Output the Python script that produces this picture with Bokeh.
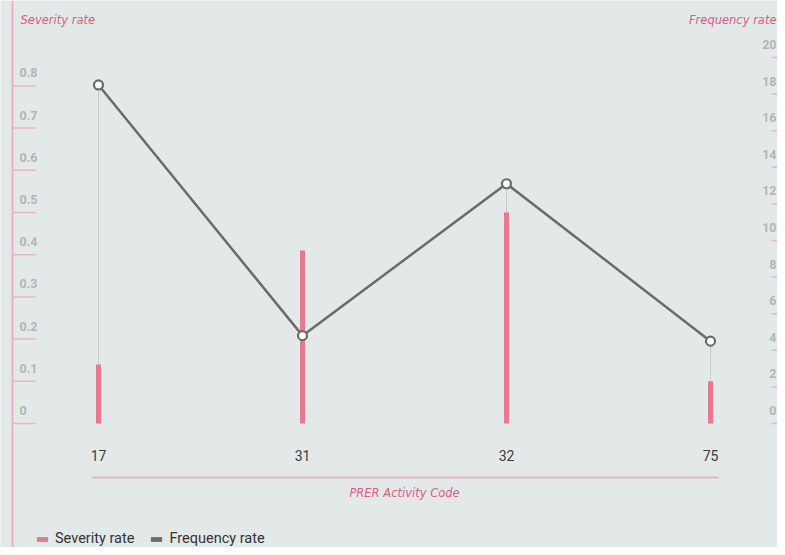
from bokeh.plotting import figure
from bokeh.models import Range1d, Span, Label, Legend, LegendItem
from bokeh.core.properties import value
from bokeh.embed import file_html
from bokeh.resources import INLINE

# ---- data ----
categories = ["17", "31", "32", "75"]
severity = [0.14, 0.41, 0.50, 0.10]
frequency = [18.5, 4.8, 13.1, 4.5]
sev_ticks = [0, 0.1, 0.2, 0.3, 0.4, 0.5, 0.6, 0.7, 0.8]
sev_tick_labels = ["0", "0.1", "0.2", "0.3", "0.4", "0.5", "0.6", "0.7", "0.8"]
freq_ticks = [0, 2, 4, 6, 8, 10, 12, 14, 16, 18, 20]
freq_tick_labels = [str(t) for t in freq_ticks]

# ---- layout ----
W, H = 777, 547
X0_PX, X_STEP = 98, 204          # pixel of first category, pixels per category
Y0_PX = 423                       # pixel (from top) of zero
SEV_PX, FREQ_PX = 422.0, 18.3     # pixels per unit

def px2x(px):
    return (px - X0_PX) / X_STEP

def px2sev(py):
    return (Y0_PX - py) / SEV_PX

BG = "#e3e9e9"
PINK = "#e8798f"
PINK_LIGHT = "#e9b3c0"
PINK_TEXT = "#d9607f"
GRAY_LINE = "#6b6b6b"
TICK_TEXT = "#b3b6b6"
FONT = "Roboto"
TITLE_FONT = "DejaVu Sans"

xs = list(range(len(categories)))

p = figure(width=W, height=H, output_backend="svg", toolbar_location=None,
           x_range=Range1d(px2x(0), px2x(W)),
           y_range=Range1d(px2sev(H), px2sev(0)),
           x_axis_location=None, y_axis_location=None,
           min_border=0, min_border_left=0, min_border_right=0,
           min_border_top=0, min_border_bottom=0)
p.extra_y_ranges = {"freq": Range1d(-(H - Y0_PX) / FREQ_PX, Y0_PX / FREQ_PX)}
p.background_fill_color = BG
p.border_fill_color = BG
p.outline_line_color = None
p.grid.visible = False

# left vertical axis line
p.add_layout(Span(location=px2x(12), dimension="height", line_color=PINK_LIGHT, line_width=2))

# left ticks + labels
p.segment(x0=[px2x(12)] * len(sev_ticks), x1=[px2x(35)] * len(sev_ticks),
          y0=sev_ticks, y1=sev_ticks, line_color=PINK_LIGHT, line_width=1.5)
p.text(x=[px2x(19)] * len(sev_ticks), y=sev_ticks, text=sev_tick_labels,
       y_offset=-13, text_align="left", text_baseline="middle",
       text_font=value(FONT), text_font_style="bold", text_font_size="12.5px",
       text_color=TICK_TEXT)

# right ticks + labels
p.segment(x0=[px2x(771)] * len(freq_ticks), x1=[px2x(W)] * len(freq_ticks),
          y0=freq_ticks, y1=freq_ticks, line_color=PINK_LIGHT, line_width=1.5,
          y_range_name="freq")
p.text(x=[px2x(W - 1)] * len(freq_ticks), y=freq_ticks, text=freq_tick_labels,
       y_offset=-13, text_align="right", text_baseline="middle",
       text_font=value(FONT), text_font_style="bold", text_font_size="12.5px",
       text_color=TICK_TEXT, y_range_name="freq")

# dotted drop lines (from frequency point down, behind bars)
p.segment(x0=xs, x1=xs, y0=frequency, y1=[0] * len(xs), line_color="#a9abab",
          line_width=1, line_dash="1 1", y_range_name="freq")

# severity bars
bars = p.vbar(x=xs, top=severity, bottom=0, width=5 / X_STEP, fill_color=PINK, line_color=None)

# frequency line
p.line(x=xs, y=frequency, line_color=GRAY_LINE, line_width=2.5, y_range_name="freq")
p.scatter(x=xs, y=frequency, size=9, marker="circle", fill_color="white",
          line_color=GRAY_LINE, line_width=2.2, y_range_name="freq")

# x axis line, labels, title
p.segment(x0=[xs[0] + px2x(91)], x1=[xs[-1] + px2x(718) - 3], y0=[px2sev(477)], y1=[px2sev(477)],
          line_color=PINK_LIGHT, line_width=2)
p.text(x=xs, y=[px2sev(455)] * len(xs), text=categories, text_align="center",
       text_baseline="middle", text_font=value(FONT), text_font_size="14px", text_color="#3c3c3c")
p.add_layout(Label(x=(xs[0] + xs[-1]) / 2, y=H - 492, y_units="screen", text="PRER Activity Code",
                   text_align="center", text_baseline="middle", text_font=TITLE_FONT,
                   text_font_style="italic", text_font_size="11.5px", text_color=PINK_TEXT))

# axis titles
p.add_layout(Label(x=20, y=H - 19, x_units="screen", y_units="screen", text="Severity rate",
                   text_align="left", text_baseline="middle", text_font=TITLE_FONT,
                   text_font_style="italic", text_font_size="11.5px", text_color=PINK_TEXT))
p.add_layout(Label(x=W - 1, y=H - 19, x_units="screen", y_units="screen", text="Frequency rate",
                   text_align="right", text_baseline="middle", text_font=TITLE_FONT,
                   text_font_style="italic", text_font_size="11.5px", text_color=PINK_TEXT))

# legend
freq_proxy = p.vbar(x=[xs[0]], top=[0], bottom=[0], width=5 / X_STEP,
                    fill_color=GRAY_LINE, line_color=None)
legend = Legend(items=[LegendItem(label="Severity rate", renderers=[bars]),
                       LegendItem(label="Frequency rate", renderers=[freq_proxy])],
                orientation="horizontal", location=(35, 0),
                background_fill_alpha=0, border_line_color=None,
                padding=0, margin=0, spacing=15, label_standoff=6,
                glyph_width=14, glyph_height=6, label_height=14,
                label_text_font=FONT, label_text_font_size="14.5px", label_text_color="#333333")
p.add_layout(legend)

open("out.html", "w").write(file_html(p, INLINE))
